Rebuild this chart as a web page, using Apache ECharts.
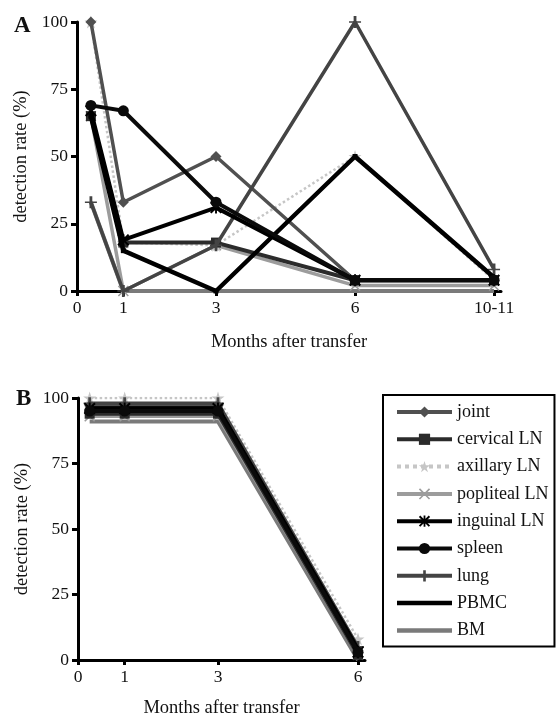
<!DOCTYPE html>
<html>
<head>
<meta charset="utf-8">
<script src="https://cdn.jsdelivr.net/npm/echarts@6/dist/echarts.min.js"></script>
<style>
html,body{margin:0;padding:0;background:#fff;}
#chart{width:558px;height:719px;}
</style>
</head>
<body>
<div id="chart"></div>
<script>
// ---- data ----
var seriesNames = ['joint','cervical LN','axillary LN','popliteal LN','inguinal LN','spleen','lung','PBMC','BM'];
// Panel A: x positions (months; "10-11" plotted at position 9)
var monthsA = [0.3, 1, 3, 6, 9];
var tickValuesA = [0, 1, 3, 6, 9];
var tickLabelsA = ['0', '1', '3', '6', '10-11'];
var jointA      = [100, 33, 50, 4, 4];
var cervicalA   = [65, 18, 18, 4, 4];
var axillaryA   = [100, 18, 17, 50, 4];
var poplitealA  = [65, 0, 17, 2, 2];
var inguinalA   = [67, 19, 31, 4, 4];
var spleenA     = [69, 67, 33, 4, 4];
var lungA       = [33, 0, 17, 100, 8];
var pbmcA       = [65, 15, 0, 50, 5];
var bmA         = [33, 0, 0, 0, 0];
// Panel B
var monthsB = [0.25, 1, 3, 6];
var tickValuesB = [0, 1, 3, 6];
var tickLabelsB = ['0', '1', '3', '6'];
var jointB      = [97, 97, 97, 3];
var cervicalB   = [94, 94, 94, 2];
var axillaryB   = [100, 100, 100, 8];
var poplitealB  = [93, 93, 93, 2];
var inguinalB   = [96, 96, 96, 3];
var spleenB     = [95, 95, 95, 3];
var lungB       = [98, 98, 98, 5];
var pbmcB       = [96, 96, 96, 4];
var bmB         = [91, 91, 91, 0];

// ---- styles ----
var X_PATH = 'path://M0,1 L1,0 L5,4 L9,0 L10,1 L6,5 L10,9 L9,10 L5,6 L1,10 L0,9 L4,5 Z';
var AST_PATH = 'path://M0,1.2 L1.2,0 L5,3.8 L8.8,0 L10,1.2 L6.2,5 L10,8.8 L8.8,10 L5,6.2 L1.2,10 L0,8.8 L3.8,5 Z M4.2,0 L5.8,0 L5.8,10 L4.2,10 Z';
var PLUS_PATH = 'path://M4.3,0 L5.7,0 L5.7,4.3 L8,4.3 L8,5.7 L5.7,5.7 L5.7,10 L4.3,10 L4.3,5.7 L2,5.7 L2,4.3 L4.3,4.3 Z';
var STAR_PATH = 'path://M5,0 L6.2,3.6 L10,3.6 L6.9,5.9 L8.1,9.6 L5,7.3 L1.9,9.6 L3.1,5.9 L0,3.6 L3.8,3.6 Z';
var BAR_ICON = 'path://M0,0 L55,0 L55,4.5 L0,4.5 Z';

var styles = {
  'joint':        {color:'#505050', width:3.5, symbol:'diamond', size:11},
  'cervical LN':  {color:'#2b2b2b', width:4,   symbol:'rect',    size:10},
  'axillary LN':  {color:'#c6c6c6', width:2.5, symbol:STAR_PATH, size:13, type:'dotted'},
  'popliteal LN': {color:'#9c9c9c', width:3.5, symbol:X_PATH,    size:11},
  'inguinal LN':  {color:'#000000', width:4,   symbol:AST_PATH,  size:12},
  'spleen':       {color:'#0a0a0a', width:4,   symbol:'circle',  size:11},
  'lung':         {color:'#444444', width:3.5, symbol:PLUS_PATH, size:12},
  'PBMC':         {color:'#000000', width:4.5, symbol:'rect',    size:5},
  'BM':           {color:'#7a7a7a', width:4,   symbol:'none',    size:0}
};

var dataA = {'joint':jointA,'cervical LN':cervicalA,'axillary LN':axillaryA,'popliteal LN':poplitealA,
  'inguinal LN':inguinalA,'spleen':spleenA,'lung':lungA,'PBMC':pbmcA,'BM':bmA};
var dataB = {'joint':jointB,'cervical LN':cervicalB,'axillary LN':axillaryB,'popliteal LN':poplitealB,
  'inguinal LN':inguinalB,'spleen':spleenB,'lung':lungB,'PBMC':pbmcB,'BM':bmB};

function zip(xs, ys){ return xs.map(function(x,i){ return [x, ys[i]]; }); }

var FONT = 'Liberation Serif';
var series = [];
var drawOrder = ['BM','popliteal LN','axillary LN','cervical LN','joint','lung','PBMC','inguinal LN','spleen'];
[[0,monthsA,dataA],[1,monthsB,dataB]].forEach(function(p){
  seriesNames.forEach(function(name){
    var s = styles[name];
    series.push({
      type:'line', name:name, xAxisIndex:p[0], yAxisIndex:p[0],
      data: zip(p[1], p[2][name]),
      symbol: s.symbol, symbolSize: s.size, showSymbol: s.symbol !== 'none',
      z: 2 + drawOrder.indexOf(name)*0.1,
      lineStyle:{color:s.color, width:s.width, type: s.type || 'solid'},
      itemStyle:{color:s.color, borderWidth:0},
      emphasis:{disabled:true}, animation:false
    });
  });
});

function xAxis(gridIndex, max, ticks, labels, gap){
  return {
    type:'value', gridIndex:gridIndex, min:0, max:max,
    name:'Months after transfer', nameLocation:'middle', nameGap:gap,
    nameTextStyle:{fontFamily:FONT, fontSize:18.5, color:'#111'},
    axisLine:{show:true, lineStyle:{color:'#000', width:3}},
    axisTick:{show:true, customValues:ticks, length:5, inside:false, lineStyle:{color:'#000', width:3}},
    axisLabel:{customValues:ticks, fontFamily:FONT, fontSize:17.5, color:'#111', margin:8,
      formatter:function(v){ var i = ticks.indexOf(v); return i>=0 ? labels[i] : ''; }},
    splitLine:{show:false}
  };
}
function yAxis(gridIndex){
  return {
    type:'value', gridIndex:gridIndex, min:0, max:100, interval:25,
    name:'detection rate (%)', nameLocation:'middle', nameGap:46, nameRotate:90,
    nameTextStyle:{fontFamily:FONT, fontSize:18.5, color:'#111'},
    axisLine:{show:true, lineStyle:{color:'#000', width:3}},
    axisTick:{show:true, length:6, lineStyle:{color:'#000', width:3}},
    axisLabel:{fontFamily:FONT, fontSize:17.5, color:'#111', margin:9},
    splitLine:{show:false}
  };
}

var legendData = seriesNames.map(function(n){
  if (n === 'PBMC' || n === 'BM') return {name:n, icon:BAR_ICON};
  return {name:n};
});

var chart = echarts.init(document.getElementById('chart'), null, {renderer:'canvas'});
chart.setOption({
  backgroundColor:'#fff',
  animation:false,
  title:[
    {text:'A', left:9, top:10, textStyle:{fontFamily:FONT, fontSize:23, fontWeight:'bold', color:'#111'}},
    {text:'B', left:11, top:383, textStyle:{fontFamily:FONT, fontSize:23, fontWeight:'bold', color:'#111'}}
  ],
  grid:[
    {left:77, top:22, width:424, height:269, containLabel:false},
    {left:78, top:398, width:287, height:262, containLabel:false}
  ],
  xAxis:[ xAxis(0, 9.15, tickValuesA, tickLabelsA, 42), xAxis(1, 6.15, tickValuesB, tickLabelsB, 39) ],
  yAxis:[ yAxis(0), yAxis(1) ],
  legend:{
    data:legendData, orient:'vertical', left:383, top:395,
    itemWidth:55, itemHeight:14, itemGap:9.3,
    padding:[8,6,7,12],
    borderColor:'#000', borderWidth:2,
    lineStyle:{width:4},
    textStyle:{fontFamily:FONT, fontSize:18, color:'#111'},
    selectedMode:false
  },
  series:series
});
</script>
</body>
</html>
